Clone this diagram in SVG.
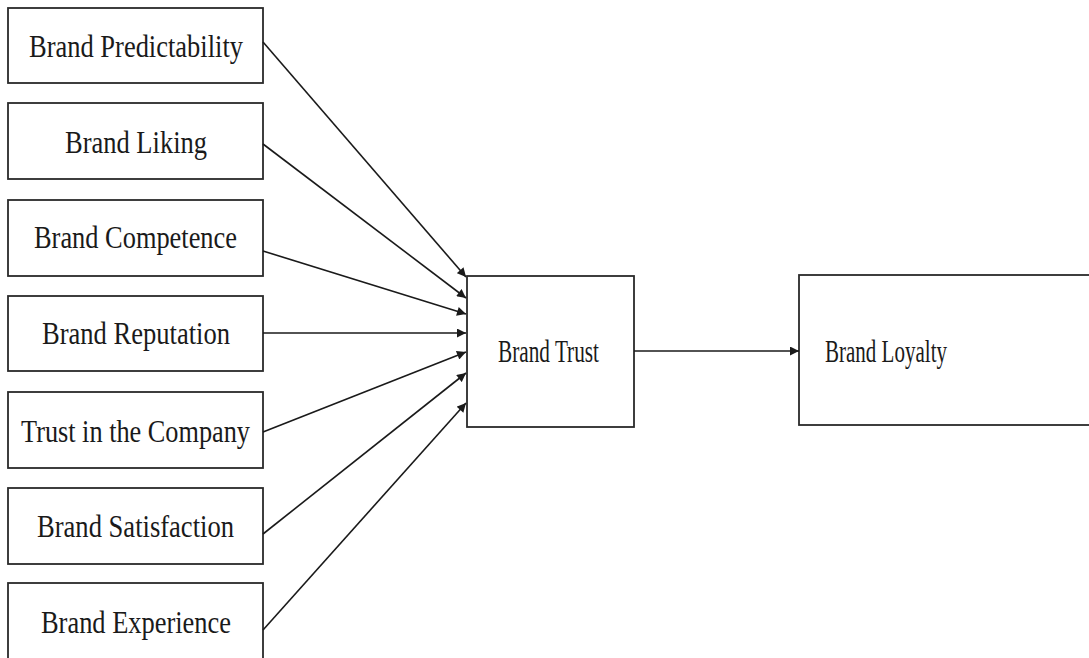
<svg xmlns="http://www.w3.org/2000/svg" width="1089" height="658" viewBox="0 0 1089 658">
<style>
.box{fill:#fff;stroke:#2a2a2a;stroke-width:1.8}
.lbl{font-family:"Liberation Serif","Times New Roman",serif;font-size:31px;fill:#1a1a1a}
.con line{stroke:#1a1a1a;stroke-width:1.6}
</style>
<defs>
<marker id="ah" viewBox="0 0 10 10" refX="10" refY="5" markerWidth="10" markerHeight="9" markerUnits="userSpaceOnUse" orient="auto">
<path d="M0,0 L10,5 L0,10 z" fill="#1a1a1a"/>
</marker>
</defs>
<rect width="1089" height="658" fill="#fff"/>
<g id="n1"><rect class="box" x="8" y="8" width="255" height="75"/><text class="lbl" x="29" y="57" textLength="214" lengthAdjust="spacingAndGlyphs">Brand Predictability</text></g>
<g id="n2"><rect class="box" x="8" y="103" width="255" height="76"/><text class="lbl" x="65" y="153" textLength="142" lengthAdjust="spacingAndGlyphs">Brand Liking</text></g>
<g id="n3"><rect class="box" x="8" y="200" width="255" height="76"/><text class="lbl" x="34" y="248" textLength="203" lengthAdjust="spacingAndGlyphs">Brand Competence</text></g>
<g id="n4"><rect class="box" x="8" y="296" width="255" height="75"/><text class="lbl" x="42" y="344" textLength="188" lengthAdjust="spacingAndGlyphs">Brand Reputation</text></g>
<g id="n5"><rect class="box" x="8" y="392" width="255" height="76"/><text class="lbl" x="21" y="442" textLength="229" lengthAdjust="spacingAndGlyphs">Trust in the Company</text></g>
<g id="n6"><rect class="box" x="8" y="488" width="255" height="76"/><text class="lbl" x="37" y="537" textLength="197" lengthAdjust="spacingAndGlyphs">Brand Satisfaction</text></g>
<g id="n7"><rect class="box" x="8" y="583" width="255" height="80"/><text class="lbl" x="41" y="633" textLength="190" lengthAdjust="spacingAndGlyphs">Brand Experience</text></g>
<g id="trust"><rect class="box" x="467" y="276" width="167" height="151"/><text class="lbl" x="498" y="362" textLength="101" lengthAdjust="spacingAndGlyphs">Brand Trust</text></g>
<g id="loyalty"><rect class="box" x="799" y="275" width="300" height="150"/><text class="lbl" x="825" y="362" textLength="122" lengthAdjust="spacingAndGlyphs">Brand Loyalty</text></g>
<g class="con" id="connectors">
<line x1="263" y1="42" x2="466" y2="277" marker-end="url(#ah)"/>
<line x1="263" y1="144" x2="466" y2="298" marker-end="url(#ah)"/>
<line x1="263" y1="251" x2="466" y2="314" marker-end="url(#ah)"/>
<line x1="263" y1="333" x2="466" y2="333" marker-end="url(#ah)"/>
<line x1="263" y1="432" x2="466" y2="352" marker-end="url(#ah)"/>
<line x1="263" y1="534" x2="466" y2="373" marker-end="url(#ah)"/>
<line x1="263" y1="630" x2="466" y2="403" marker-end="url(#ah)"/>
<line x1="634" y1="351" x2="799" y2="351" marker-end="url(#ah)"/>
</g>
</svg>
